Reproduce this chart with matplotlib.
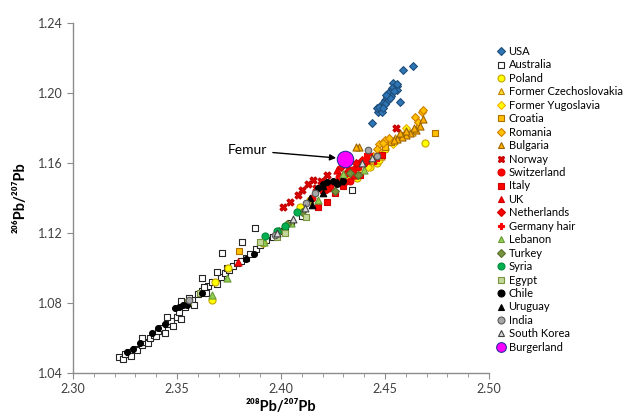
import numpy as np
import matplotlib
matplotlib.use("Agg")
import matplotlib.pyplot as plt
from matplotlib.ticker import MultipleLocator, FormatStrFormatter

plt.rcParams['font.family'] = ['Lato', 'DejaVu Sans']

# 208Pb/207Pb (x), 206Pb/207Pb (y) per country
usa_x = [2.4635, 2.4587, 2.4556, 2.4548, 2.4540, 2.4532, 2.4524, 2.4516, 2.4508, 2.4500, 2.4492, 2.4484,
         2.4476, 2.4468, 2.4484, 2.4460, 2.4572, 2.4436, 2.4556, 2.4530, 2.4515, 2.4545, 2.4500, 2.4470,
         2.4525, 2.4490, 2.4560, 2.4505]
usa_y = [1.2154, 1.2130, 1.2040, 1.2036, 1.2055, 1.2027, 1.2008, 1.1998, 1.1979, 1.1960, 1.1941, 1.1922,
         1.1903, 1.1893, 1.1893, 1.1913, 1.1950, 1.1827, 1.2017, 1.1985, 1.1960, 1.2010, 1.1935, 1.1920,
         1.1970, 1.1915, 1.2050, 1.1990]

aus_x = [2.322, 2.324, 2.325, 2.327, 2.328, 2.330, 2.331, 2.333, 2.334, 2.336, 2.337, 2.339, 2.340, 2.341,
         2.343, 2.344, 2.345, 2.347, 2.348, 2.350, 2.351, 2.352, 2.354, 2.355, 2.357, 2.358, 2.360, 2.362,
         2.364, 2.365, 2.367, 2.369, 2.371, 2.373, 2.375, 2.377, 2.379, 2.381, 2.383, 2.385, 2.388, 2.390,
         2.393, 2.396, 2.399, 2.402, 2.405, 2.410,
         2.3875, 2.3811, 2.3715, 2.3619, 2.3691, 2.4340, 2.352, 2.345, 2.333, 2.356, 2.363, 2.374, 2.391]
aus_y = [1.049, 1.048, 1.051, 1.052, 1.050, 1.054, 1.053, 1.056, 1.058, 1.057, 1.060, 1.062, 1.061, 1.064,
         1.066, 1.063, 1.068, 1.070, 1.067, 1.072, 1.075, 1.071, 1.078, 1.080, 1.082, 1.079, 1.085, 1.087,
         1.086, 1.090, 1.092, 1.091, 1.095, 1.097, 1.099, 1.101, 1.103, 1.104, 1.106, 1.108, 1.111, 1.113,
         1.116, 1.118, 1.121, 1.123, 1.126, 1.130,
         1.1227, 1.1150, 1.1084, 1.0941, 1.0979, 1.1446, 1.081, 1.072, 1.060, 1.083, 1.089, 1.100, 1.115]

pol_x = [2.4692, 2.4460, 2.4364, 2.4091, 2.3915, 2.3747, 2.3683, 2.3668, 2.4430, 2.4470, 2.4330, 2.4140,
         2.4280, 2.4500]
pol_y = [1.1712, 1.1598, 1.1512, 1.1350, 1.1141, 1.0998, 1.0922, 1.0817, 1.1580, 1.1620, 1.1530, 1.1390,
         1.1500, 1.1680]

cze_x = [2.4660, 2.4630, 2.4590, 2.4550, 2.4480, 2.4420, 2.4380, 2.4440]
cze_y = [1.1820, 1.1780, 1.1765, 1.1745, 1.1640, 1.1600, 1.1560, 1.1620]

yug_x = [2.4600, 2.4540, 2.4470, 2.4420, 2.4320]
yug_y = [1.1800, 1.1710, 1.1660, 1.1580, 1.1520]

cro_x = [2.4740, 2.4580, 2.4530, 2.4420, 2.3800, 2.4500]
cro_y = [1.1770, 1.1760, 1.1720, 1.1630, 1.1099, 1.1690]

rom_x = [2.4644, 2.4676, 2.4684, 2.4660, 2.4500, 2.4470, 2.4520, 2.4440, 2.4460, 2.4492]
rom_y = [1.1865, 1.1893, 1.1903, 1.1836, 1.1730, 1.1710, 1.1745, 1.1640, 1.1680, 1.1712]

bul_x = [2.4684, 2.4668, 2.4650, 2.4620, 2.4600, 2.4580, 2.4560, 2.4570, 2.4600, 2.4640, 2.4545, 2.4377,
         2.4360]
bul_y = [1.1850, 1.1810, 1.1790, 1.1770, 1.1760, 1.1750, 1.1740, 1.1770, 1.1785, 1.1800, 1.1730, 1.1693,
         1.1690]

nor_x = [2.4043, 2.4100, 2.4155, 2.4190, 2.4130, 2.4080, 2.4170, 2.4553, 2.4220, 2.4010, 2.4360]
nor_y = [1.1379, 1.1446, 1.1503, 1.1500, 1.1480, 1.1420, 1.1460, 1.1798, 1.1530, 1.1350, 1.1590]

swi_x = [2.4200, 2.4250, 2.4280, 2.4310, 2.4340, 2.4370, 2.4400, 2.4150, 2.4230, 2.4330]
swi_y = [1.1440, 1.1490, 1.1520, 1.1540, 1.1560, 1.1580, 1.1600, 1.1400, 1.1460, 1.1500]

ita_x = [2.4484, 2.4220, 2.4180, 2.4300, 2.4380, 2.4260]
ita_y = [1.1646, 1.1379, 1.1350, 1.1470, 1.1530, 1.1430]

uk_x = [2.3795, 2.4270, 2.4320, 2.4410, 2.4350, 2.4240]
uk_y = [1.1036, 1.1560, 1.1570, 1.1620, 1.1530, 1.1470]

ned_x = [2.4290, 2.4360, 2.4310, 2.4220, 2.4390]
ned_y = [1.1580, 1.1600, 1.1490, 1.1450, 1.1620]

ger_x = [2.4404, 2.4450, 2.4420, 2.4340]
ger_y = [1.1627, 1.1620, 1.1650, 1.1550]

leb_x = [2.4297, 2.3739, 2.3667, 2.4050, 2.3920, 2.4180, 2.4400]
leb_y = [1.1537, 1.0941, 1.0846, 1.1260, 1.1150, 1.1390, 1.1560]

tur_x = [2.4332, 2.4370, 2.4100, 2.4030, 2.3990, 2.4260]
tur_y = [1.1541, 1.1530, 1.1320, 1.1250, 1.1210, 1.1440]

syr_x = [2.3923, 2.4075, 2.4020, 2.3980]
syr_y = [1.1181, 1.1322, 1.1240, 1.1210]

egy_x = [2.3554, 2.3980, 2.4020, 2.3900, 2.3610, 2.4120]
egy_y = [1.0807, 1.1180, 1.1200, 1.1150, 1.0860, 1.1290]

chi_x = [2.326, 2.329, 2.332, 2.338, 2.341, 2.344, 2.349, 2.351, 2.353, 2.355, 2.362, 2.383, 2.387,
         2.418, 2.420, 2.422, 2.425, 2.427, 2.430]
chi_y = [1.052, 1.054, 1.057, 1.063, 1.066, 1.068, 1.077, 1.078, 1.079, 1.079, 1.086, 1.105, 1.108,
         1.146, 1.148, 1.149, 1.150, 1.148, 1.150]

uru_x = [2.4268, 2.4290, 2.4203, 2.4150, 2.4140, 2.4200]
uru_y = [1.1493, 1.1495, 1.1427, 1.1360, 1.1400, 1.1470]

ind_x = [2.4420, 2.4163, 2.4120, 2.3970, 2.3560, 2.4460]
ind_y = [1.1674, 1.1427, 1.1370, 1.1190, 1.0820, 1.1640]

kor_x = [2.4388, 2.4436, 2.4115, 2.4060, 2.3980]
kor_y = [1.1598, 1.1627, 1.1341, 1.1280, 1.1200]

bur_x = [2.4308]
bur_y = [1.1621]

# label, x, y, marker, face, edge, size
series = [
    ("USA", usa_x, usa_y, "D", "#2E75B6", "#1F4E79", 16),
    ("Australia", aus_x, aus_y, "s", "white", "#262626", 20),
    ("Poland", pol_x, pol_y, "o", "#FFFF00", "#C9A400", 26),
    ("Former Czechoslovakia", cze_x, cze_y, "^", "#FFE030", "#C08000", 26),
    ("Former Yugoslavia", yug_x, yug_y, "D", "#FFFF00", "#F0B000", 16),
    ("Croatia", cro_x, cro_y, "s", "#FFC000", "#B07000", 20),
    ("Romania", rom_x, rom_y, "D", "#FFC000", "#D08000", 16),
    ("Bulgaria", bul_x, bul_y, "^", "#FFB000", "#9C6500", 26),
    ("Norway", nor_x, nor_y, "X", "#E00000", "#C00000", 26),
    ("Switzerland", swi_x, swi_y, "o", "#FF0000", "#E00000", 24),
    ("Italy", ita_x, ita_y, "s", "#FF0000", "#D00000", 22),
    ("UK", uk_x, uk_y, "^", "#FF0000", "#D00000", 26),
    ("Netherlands", ned_x, ned_y, "D", "#FF0000", "#D00000", 16),
    ("Germany hair", ger_x, ger_y, "P", "#FF0000", "#FF0000", 26),
    ("Lebanon", leb_x, leb_y, "^", "#92D050", "#6A9A3A", 26),
    ("Turkey", tur_x, tur_y, "D", "#77933C", "#5A7030", 16),
    ("Syria", syr_x, syr_y, "o", "#00B050", "#008A3C", 26),
    ("Egypt", egy_x, egy_y, "s", "#C4D79B", "#77933C", 20),
    ("Chile", chi_x, chi_y, "o", "black", "black", 18),
    ("Uruguay", uru_x, uru_y, "^", "black", "black", 22),
    ("India", ind_x, ind_y, "o", "#A6A6A6", "#595959", 22),
    ("South Korea", kor_x, kor_y, "^", "#D9D9D9", "#404040", 24),
    ("Burgerland", bur_x, bur_y, "o", "#FF00FF", "#2F2F9F", 140),
]

fig = plt.figure(figsize=(6.23, 4.18), dpi=100)
ax = fig.add_axes([73 / 623, 45 / 418, 416 / 623, 350 / 418])

handles = []
for label, xs, ys, mk, fc, ec, sz in series:
    h = ax.scatter(xs, ys, marker=mk, s=sz, facecolor=fc, edgecolor=ec, linewidth=0.8, label=label)
    handles.append(h)

ax.annotate("Femur", xy=(2.4265, 1.1629), xytext=(2.3745, 1.1672),
            fontsize=10, color="black", va="center", ha="left",
            arrowprops=dict(arrowstyle="-|>", color="black", lw=1.0, mutation_scale=9,
                            shrinkA=2, shrinkB=0))

ax.set_xlim(2.30, 2.50)
ax.set_ylim(1.04, 1.24)
ax.xaxis.set_major_locator(MultipleLocator(0.05))
ax.xaxis.set_minor_locator(MultipleLocator(0.01))
ax.yaxis.set_major_locator(MultipleLocator(0.04))
ax.xaxis.set_major_formatter(FormatStrFormatter("%.2f"))
ax.yaxis.set_major_formatter(FormatStrFormatter("%.2f"))

for s in ["top", "right"]:
    ax.spines[s].set_visible(False)
for s in ["left", "bottom"]:
    ax.spines[s].set_color("#8C8C8C")
    ax.spines[s].set_linewidth(1.0)
ax.tick_params(axis="both", which="major", direction="out", length=4, color="#8C8C8C",
               labelsize=9, labelcolor="#404040")
ax.tick_params(axis="x", which="minor", direction="out", length=3, color="#8C8C8C")

ax.set_xlabel("²⁰⁸Pb/²⁰⁷Pb", fontsize=10.5, fontweight="bold", labelpad=3)
ax.set_ylabel("²⁰⁶Pb/²⁰⁷Pb", fontsize=10.5, fontweight="bold", labelpad=7)

leg_handles = []
for h, (label, xs, ys, mk, fc, ec, sz) in zip(handles, series):
    if label == "Burgerland":
        ms = 7
    elif mk == "D":
        ms = 4
    else:
        ms = 5
    leg_handles.append(plt.Line2D([], [], linestyle="none", marker=mk, markerfacecolor=fc,
                                  markeredgecolor=ec, markersize=ms,
                                  markeredgewidth=0.8, label=label))
fig.legend(handles=leg_handles, loc="upper left", bbox_to_anchor=(498 / 623, 1 - 46 / 418),
           frameon=False, fontsize=8, labelspacing=0.22, handlelength=0.6, handletextpad=0.35,
           borderpad=0, borderaxespad=0)

fig.savefig("out.png", dpi=100, facecolor="white")
